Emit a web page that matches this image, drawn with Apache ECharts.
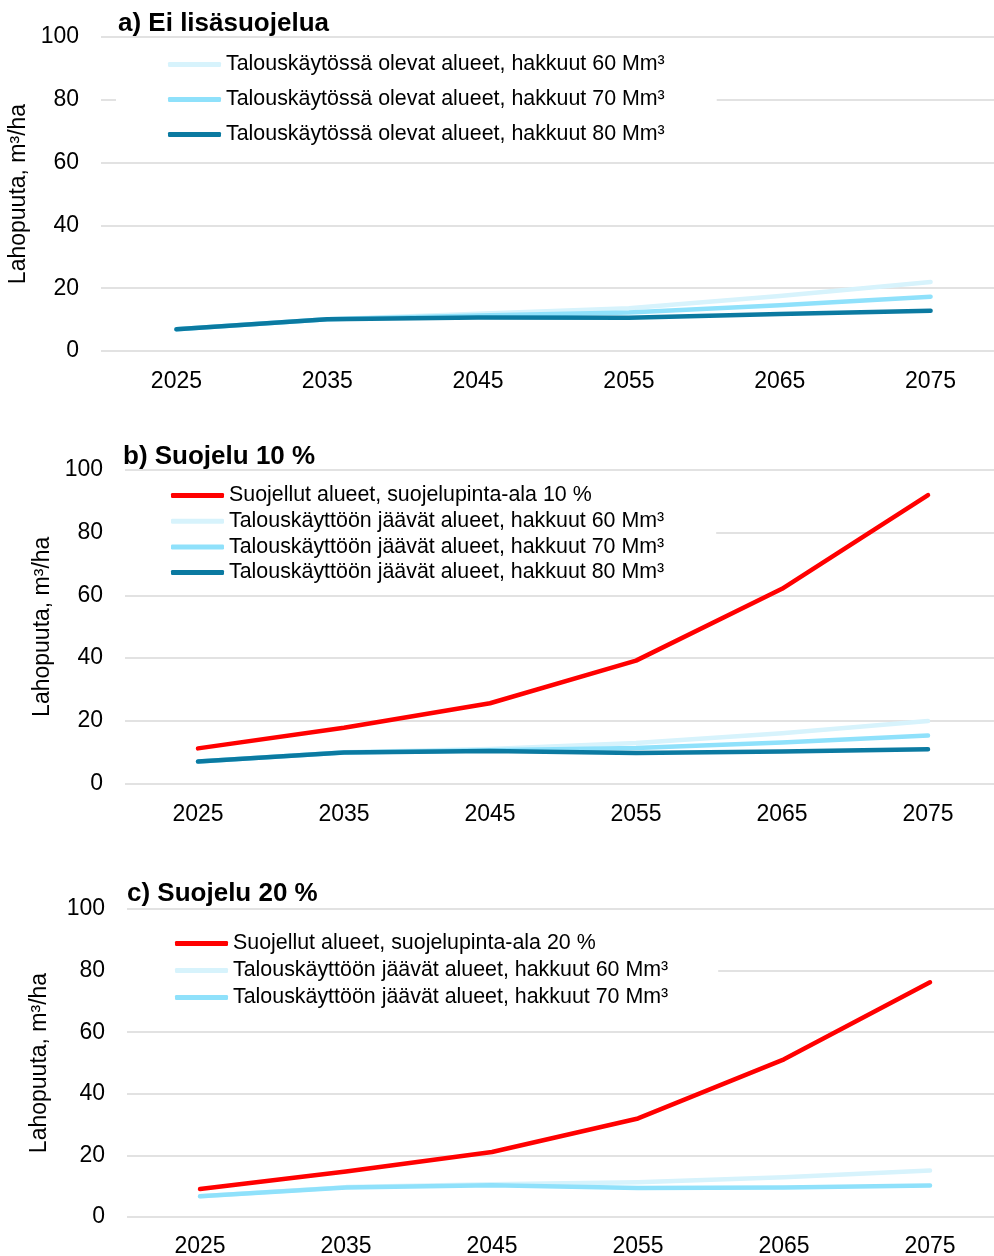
<!DOCTYPE html>
<html>
<head>
<meta charset="utf-8">
<script src="https://cdn.jsdelivr.net/npm/echarts@6/dist/echarts.min.js"></script>
<style>html,body{margin:0;padding:0;background:#fff;}#c{width:994px;height:1256px;}</style>
</head>
<body>
<div id="c"></div>
<script>
const years = ['2025','2035','2045','2055','2065','2075'];
const yTicks = [0, 20, 40, 60, 80, 100];
const titles = ['a) Ei lisäsuojelua', 'b) Suojelu 10 %', 'c) Suojelu 20 %'];
const yName = 'Lahopuuta, m³/ha';

const namesA = ['Talouskäytössä olevat alueet, hakkuut 60 Mm³','Talouskäytössä olevat alueet, hakkuut 70 Mm³','Talouskäytössä olevat alueet, hakkuut 80 Mm³'];
const a60 = [6.9, 10.1, 11.9, 13.6, 17.5, 22.0];
const a70 = [6.9, 10.1, 11.3, 12.3, 14.6, 17.3];
const a80 = [6.9, 10.1, 10.7, 10.6, 11.8, 12.8];

const namesB = ['Suojellut alueet, suojelupinta-ala 10 %','Talouskäyttöön jäävät alueet, hakkuut 60 Mm³','Talouskäyttöön jäävät alueet, hakkuut 70 Mm³','Talouskäyttöön jäävät alueet, hakkuut 80 Mm³'];
const bProt = [11.2, 17.8, 25.6, 39.2, 62.1, 92.0];
const b60 = [7.0, 10.0, 11.0, 12.9, 16.0, 19.9];
const b70 = [7.0, 9.9, 10.6, 11.3, 13.1, 15.3];
const b80 = [7.0, 9.9, 10.4, 9.7, 10.2, 10.9];

const namesC = ['Suojellut alueet, suojelupinta-ala 20 %','Talouskäyttöön jäävät alueet, hakkuut 60 Mm³\u200b','Talouskäyttöön jäävät alueet, hakkuut 70 Mm³\u200b'];
const cProt = [9.1, 14.8, 21.1, 32.0, 51.2, 76.2];
const c60 = [6.7, 9.7, 10.6, 11.3, 12.9, 15.1];
const c70 = [6.7, 9.6, 10.3, 9.4, 9.6, 10.2];

const COL = {red:'#ff0000', light:'#d7f3fc', mid:'#8fe1fb', dark:'#0b7aa1'};
const FONT = '"Liberation Sans", Arial, sans-serif';

const grids = [
  {left:101, top:37, width:905, height:314},
  {left:125, top:470, width:876, height:313.5},
  {left:127, top:909, width:876, height:308}
].map(g=>Object.assign(g,{outerBoundsMode:'none', containLabel:false}));
const nameGaps = [67, 63, 76];
const labelMargins = [19, 20, 18];

const xAxis = grids.map((g,i)=>({
  type:'category', gridIndex:i, data:years, boundaryGap:true,
  axisLine:{show:false}, axisTick:{show:false},
  axisLabel:{color:'#000', fontSize:23, fontFamily:FONT, margin:labelMargins[i]}
}));
const yAxis = grids.map((g,i)=>({
  type:'value', gridIndex:i, min:yTicks[0], max:yTicks[yTicks.length-1], interval:20,
  axisLine:{show:false}, axisTick:{show:false},
  axisLabel:{color:'#000', fontSize:23, fontFamily:FONT, margin:22},
  splitLine:{lineStyle:{color:'#d9d9d9', width:1.6}},
  name:yName, nameLocation:'middle', nameRotate:90, nameGap:nameGaps[i],
  nameTextStyle:{color:'#000', fontSize:23, fontFamily:FONT}
}));

function ser(name, data, color, gi){
  return {type:'line', name:name, data:data, xAxisIndex:gi, yAxisIndex:gi,
    color:color, symbol:'none', smooth:false,
    lineStyle:{color:color, width:4.5, cap:'round', join:'round'},
    itemStyle:{color:color}, emphasis:{disabled:true}};
}

const series = [
  ser(namesA[0], a60, COL.light, 0),
  ser(namesA[1], a70, COL.mid, 0),
  ser(namesA[2], a80, COL.dark, 0),
  ser(namesB[0], bProt, COL.red, 1),
  ser(namesB[1], b60, COL.light, 1),
  ser(namesB[2], b70, COL.mid, 1),
  ser(namesB[3], b80, COL.dark, 1),
  ser(namesC[0], cProt, COL.red, 2),
  ser(namesC[1], c60, COL.light, 2),
  ser(namesC[2], c70, COL.mid, 2)
];

function leg(names, left, top, gap, pad){
  return {data:names, orient:'vertical', left:left, top:top, itemGap:gap,
    icon:'roundRect', itemWidth:53, itemHeight:5,
    backgroundColor:'#fff', padding:pad, selectedMode:false,
    textStyle:{color:'#000', fontSize:21.4, fontFamily:FONT, lineHeight:21, padding:[0,0,0,0]}};
}

const legend = [
  leg(namesA, 116, 47, 14, [7, 52, 8, 52]),
  leg(namesB, 108, 480, 4.7, [5, 52, 4, 63]),
  leg(namesC, 110, 927, 6, [6, 50, 6, 65])
];

const title = [
  {text:titles[0], left:118, top:11},
  {text:titles[1], left:123, top:444},
  {text:titles[2], left:127, top:881}
].map(t=>Object.assign(t,{padding:0, textStyle:{color:'#000', fontSize:26, fontWeight:'bold', fontFamily:FONT}}));

const chart = echarts.init(document.getElementById('c'), null, {renderer:'canvas'});
chart.setOption({
  backgroundColor:'#fff', animation:false,
  title:title, legend:legend, grid:grids, xAxis:xAxis, yAxis:yAxis, series:series
});
</script>
</body>
</html>
